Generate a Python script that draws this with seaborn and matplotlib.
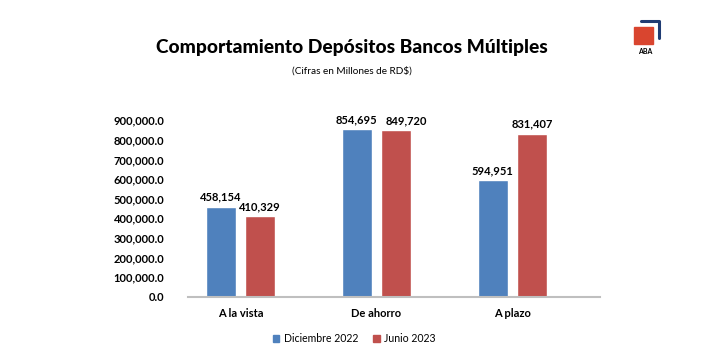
import matplotlib
matplotlib.use('Agg')
import matplotlib.pyplot as plt
import matplotlib.patches as mpatches
import matplotlib.lines as mlines
import pandas as pd
import seaborn as sns

# data
categorias = ['A la vista', 'De ahorro', 'A plazo']
series = ['Diciembre 2022', 'Junio 2023']
dic_2022 = [458154, 854695, 594951]
jun_2023 = [410329, 849720, 831407]
colores = ['#4F81BD', '#C0504D']

df = pd.DataFrame({
    'tipo': categorias * 2,
    'periodo': [series[0]] * 3 + [series[1]] * 3,
    'monto': dic_2022 + jun_2023,
})

sns.set_theme(style='white')
plt.rcParams['font.family'] = ['Lato', 'DejaVu Sans']
plt.rcParams['text.color'] = 'black'
plt.rcParams['xtick.color'] = 'black'
plt.rcParams['ytick.color'] = 'black'

fig = plt.figure(figsize=(7.03, 3.62), dpi=100)
ax = fig.add_axes([188 / 703, 0.18, 412 / 703, 0.488])

sns.barplot(data=df, x='tipo', y='monto', hue='periodo', palette=colores,
            width=0.58, gap=0.23, ax=ax, legend=False, saturation=1)

etiquetas = []
for cont in ax.containers:
    etiquetas.append(ax.bar_label(cont, labels=[f'{v:,.0f}' for v in cont.datavalues],
                                  padding=3, fontsize=8, fontweight='bold', color='black'))
# la etiqueta de junio en "De ahorro" va corrida a la derecha para no chocar
t = etiquetas[1][1]
t.xyann = (t.xyann[0] + 7.5, t.xyann[1])

ax.set_xlim(-0.386, 2.643)
ax.set_ylim(0, 900000)
ax.set_yticks(range(0, 900001, 100000))
ax.set_yticklabels([f'{v:,.1f}' for v in range(0, 900001, 100000)],
                   fontsize=8, fontweight='bold')
ax.tick_params(axis='y', pad=17, length=0)
ax.tick_params(axis='x', pad=8, length=0, labelsize=8)
for lbl in ax.get_xticklabels():
    lbl.set_fontweight('bold')
ax.set_xlabel('')
ax.set_ylabel('')
sns.despine(ax=ax, left=True)
ax.spines['bottom'].set_color('#BFBFBF')
ax.spines['bottom'].set_linewidth(1.5)

fig.text(0.5, 0.87, 'Comportamiento Depósitos Bancos Múltiples',
         ha='center', va='center', fontsize=13.8, fontweight='black')
fig.text(0.5, 0.805, '(Cifras en Millones de RD$)', ha='center',
         va='center', fontsize=7.2)

handles = [mpatches.Patch(color=c, label=s) for c, s in zip(colores, series)]
fig.legend(handles=handles, loc='center', bbox_to_anchor=(354 / 703, 0.065),
           ncol=2, frameon=False, fontsize=7.6, handlelength=0.65,
           handleheight=0.65, columnspacing=1.4, handletextpad=0.4)

# logo
fig.patches.append(mpatches.Rectangle((634 / 703, 1 - 44 / 362), 19 / 703, 17 / 362,
                                      transform=fig.transFigure, color='#D9452F'))
fig.lines.append(mlines.Line2D([641 / 703, 659 / 703, 659 / 703],
                               [1 - 21 / 362, 1 - 21 / 362, 1 - 38 / 362],
                               transform=fig.transFigure, color='#1F3C73', lw=2.2))
fig.text(645 / 703, 1 - 51 / 362, 'ABA', ha='center', va='center',
         fontsize=5, fontweight='bold')

fig.savefig('out.png', dpi=100)
